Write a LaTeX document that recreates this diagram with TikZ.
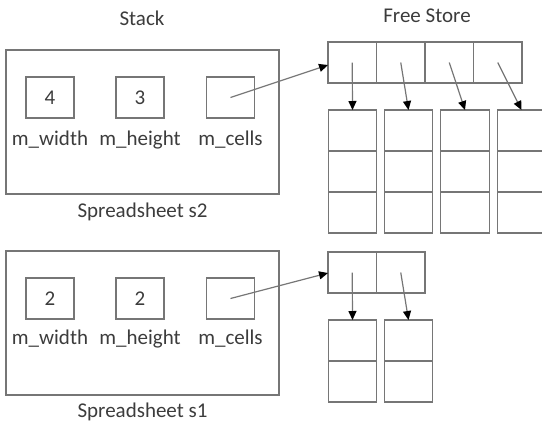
\documentclass[tikz,border=0pt]{standalone}
\usepackage{fontspec}
\setmainfont{Carlito}
\usetikzlibrary{arrows.meta}
\definecolor{ln}{HTML}{767676}
\definecolor{tx}{HTML}{3C3C3C}
\tikzset{
  x=1pt, y=-1pt,
  every node/.style={text=tx, font=\fontsize{21}{25}\selectfont},
  lbl/.style={inner sep=0pt, anchor=center},
  box/.style={draw=ln, line width=1.3pt, inner sep=0pt, outer sep=0pt, minimum width=48pt, minimum height=41pt},
  outer/.style={draw=ln, line width=1.3pt, inner sep=0pt, outer sep=0pt, minimum width=273pt, minimum height=144pt},
  cell/.style={draw=ln, line width=1.3pt, inner sep=0pt, outer sep=0pt, minimum width=48.5pt, minimum height=41pt},
  ptr/.style={draw=ln, line width=1.2pt, -{Triangle[length=9pt,width=8pt,fill=black,color=black]}},
  dot/.style={inner sep=0pt, outer sep=0pt, minimum size=0pt}
}
\begin{document}
\begin{tikzpicture}
\useasboundingbox (0,0) rectangle (542,424);
\clip (0,0) rectangle (542,424);
% titles
\node[lbl] (stack) at (142,18) {Stack};
\node[lbl] (free) at (427,16) {Free Store};
% spreadsheet s2
\node[outer] (s2) at (142.5,122) {};
\node[box] (w2) at (50,97.5) {4};
\node[box] (h2) at (140,97.5) {3};
\node[box] (c2) at (230.5,97.5) {};
\node[lbl] (w2l) at (50,140) {m\_width};
\node[lbl] (h2l) at (140,140) {m\_height};
\node[lbl] (c2l) at (230.5,140) {m\_cells};
\node[lbl] (s2l) at (142.5,212) {Spreadsheet s2};
% spreadsheet s1
\node[outer] (s1) at (142.5,323) {};
\node[box] (w1) at (50,298.5) {2};
\node[box] (h1) at (140,298.5) {2};
\node[box] (c1) at (230.5,298.5) {};
\node[lbl] (w1l) at (50,339) {m\_width};
\node[lbl] (h1l) at (140,339) {m\_height};
\node[lbl] (c1l) at (230.5,339) {m\_cells};
\node[lbl] (s1l) at (142.5,412) {Spreadsheet s1};
% free store array of s2
\foreach \i/\x in {1/352.25,2/400.75,3/449.25,4/497.75}{
  \node[cell] (a2\i) at (\x,62.5) {};
}
\foreach \i/\x in {1/352.5,2/408.5,3/465,4/521.5}{
  \foreach \j/\y in {1/130.5,2/171.5,3/212.5}{
    \node[cell] (k2\i\j) at (\x,\y) {};
  }
}
% free store array of s1
\foreach \i/\x in {1/352.25,2/400.75}{
  \node[cell] (a1\i) at (\x,272.5) {};
}
\foreach \i/\x in {1/352.5,2/408.5}{
  \foreach \j/\y in {1/340.5,2/381.5}{
    \node[cell] (k1\i\j) at (\x,\y) {};
  }
}
% pointers
\coordinate (e2) at (328,65);
\coordinate (e1) at (328,273);
\draw[ptr] (c2.center) -- (e2);
\draw[ptr] (c1.center) -- (e1);
\foreach \i in {1,2,3,4}{
  \draw[ptr] (a2\i.center) -- (k2\i1.north);
}
\foreach \i in {1,2}{
  \draw[ptr] (a1\i.center) -- (k1\i1.north);
}
\end{tikzpicture}
\end{document}
